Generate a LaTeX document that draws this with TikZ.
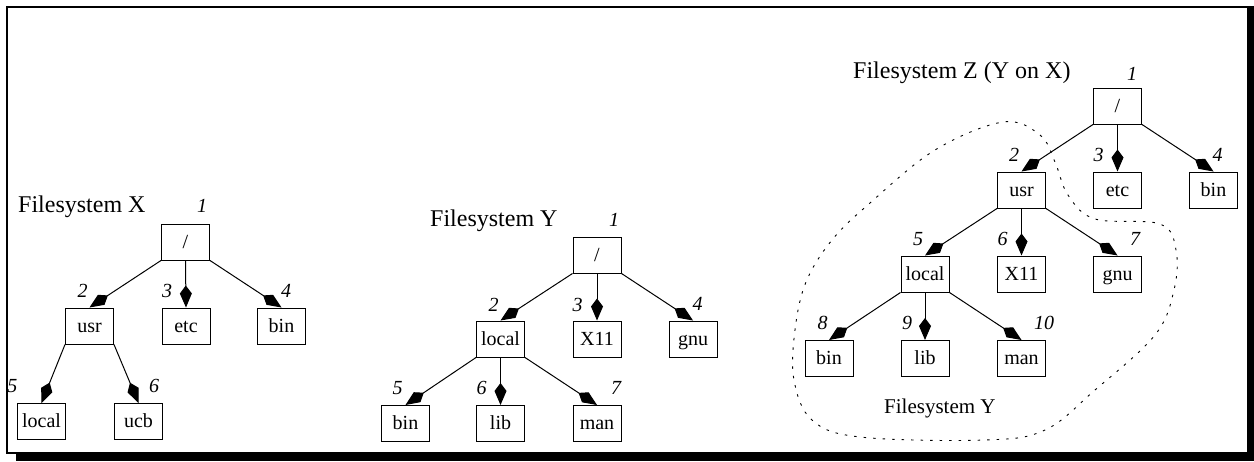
\documentclass[tikz,border=0pt]{standalone}
\usepackage{fontspec}
\setmainfont{Liberation Serif}
\usetikzlibrary{arrows.meta}
\begin{document}
\begin{tikzpicture}[x=1pt,y=-1pt,
 box/.style={draw, line width=1pt, minimum width=48pt, minimum height=36pt, inner sep=0pt,
   font=\fontsize{20}{24}\selectfont, text height=16pt, text depth=4pt},
 num/.style={inner sep=0pt, font=\fontsize{20}{24}\selectfont\itshape},
 ttl/.style={inner sep=0pt, anchor=base west, font=\fontsize{24}{28}\selectfont},
 edge/.style={line width=1pt, -{Kite[length=22pt,width=12pt,inset=8pt]}},
 blob/.style={line width=0.9pt, dash pattern=on 2.5pt off 7pt}
]
\useasboundingbox (0,0) rectangle (1254,461);
% frame with shadow
\draw[line width=2pt] (7,7) rectangle (1248,453);
\fill (1247,6) rectangle (1254,461);
\fill (16,452) rectangle (1254,461);

% ---------- Filesystem X ----------
\node[ttl] (tx) at (18,212) {Filesystem X};
\node[box] (xr) at (185.5,242) {/};
\node[box] (xusr) at (89.5,326) {usr};
\node[box] (xetc) at (186,326) {etc};
\node[box] (xbin) at (281.5,326) {bin};
\node[box] (xlocal) at (41.5,421.5) {local};
\node[box] (xucb) at (138.5,421.5) {ucb};
\draw[edge] (xr.south west) -- (xusr.north);
\draw[edge] (xr.south) -- (xetc.north);
\draw[edge] (xr.south east) -- (xbin.north);
\draw[edge] (xusr.south west) -- (xlocal.north);
\draw[edge] (xusr.south east) -- (xucb.north);
\node[num] (xn1) at (202,206) {1};
\node[num] (xn2) at (82.5,291) {2};
\node[num] (xn3) at (167,291) {3};
\node[num] (xn4) at (286,291) {4};
\node[num] (xn5) at (12.5,386) {5};
\node[num] (xn6) at (154,386) {6};

% ---------- Filesystem Y ----------
\node[ttl] (ty) at (430,226) {Filesystem Y};
\node[box] (yr) at (597,255) {/};
\node[box] (ylocal) at (500.5,339) {local};
\node[box] (yx) at (597,339) {X11};
\node[box] (ygnu) at (693,339) {gnu};
\node[box] (ybin) at (405.5,423.5) {bin};
\node[box] (ylib) at (500.5,423.5) {lib};
\node[box] (yman) at (597,423.5) {man};
\draw[edge] (yr.south west) -- (ylocal.north);
\draw[edge] (yr.south) -- (yx.north);
\draw[edge] (yr.south east) -- (ygnu.north);
\draw[edge] (ylocal.south west) -- (ybin.north);
\draw[edge] (ylocal.south) -- (ylib.north);
\draw[edge] (ylocal.south east) -- (yman.north);
\node[num] (yn1) at (614,220) {1};
\node[num] (yn2) at (493.5,305) {2};
\node[num] (yn3) at (577.5,305) {3};
\node[num] (yn4) at (697.5,304) {4};
\node[num] (yn5) at (397.5,388) {5};
\node[num] (yn6) at (481.5,388) {6};
\node[num] (yn7) at (616,388) {7};

% ---------- Filesystem Z ----------
\node[ttl] (tz) at (853,78) {Filesystem Z (Y on X)};
\node[box] (zr) at (1117.5,106) {/};
\node[box] (zusr) at (1021.5,190) {usr};
\node[box] (zetc) at (1117.5,190) {etc};
\node[box] (zbin) at (1213.5,190) {bin};
\node[box] (zlocal) at (925,274) {local};
\node[box] (zx) at (1021.5,274) {X11};
\node[box] (zgnu) at (1117.5,274) {gnu};
\node[box] (zbinb) at (829,358.5) {bin};
\node[box] (zlib) at (925,358.5) {lib};
\node[box] (zman) at (1021.5,358.5) {man};
\draw[edge] (zr.south west) -- (zusr.north);
\draw[edge] (zr.south) -- (zetc.north);
\draw[edge] (zr.south east) -- (zbin.north);
\draw[edge] (zusr.south west) -- (zlocal.north);
\draw[edge] (zusr.south) -- (zx.north);
\draw[edge] (zusr.south east) -- (zgnu.north);
\draw[edge] (zlocal.south west) -- (zbinb.north);
\draw[edge] (zlocal.south) -- (zlib.north);
\draw[edge] (zlocal.south east) -- (zman.north);
\node[num] (zn1) at (1132,74) {1};
\node[num] (zn2) at (1014,155) {2};
\node[num] (zn3) at (1098.5,155) {3};
\node[num] (zn4) at (1217.5,155) {4};
\node[num] (zn5) at (918,239) {5};
\node[num] (zn6) at (1002.5,239) {6};
\node[num] (zn7) at (1135,239) {7};
\node[num] (zn8) at (822.5,322.5) {8};
\node[num] (zn9) at (907,322.5) {9};
\node[num] (zn10) at (1044,322.5) {10};

\draw[blob] plot[smooth cycle, tension=0.6] coordinates {
 (1003,122) (1040,135) (1055,162) (1068,195) (1095,219) (1160,224) (1176,250)
 (1174,290) (1155,335) (1095,390) (1045,430) (985,440) (860,437) (812,420)
 (794,380) (795,330) (806,282) (832,240) (870,203) (935,150)};
\node[inner sep=0pt, anchor=base west, font=\fontsize{21}{25}\selectfont] (tyz) at (884,413) {Filesystem Y};
\end{tikzpicture}
\end{document}
